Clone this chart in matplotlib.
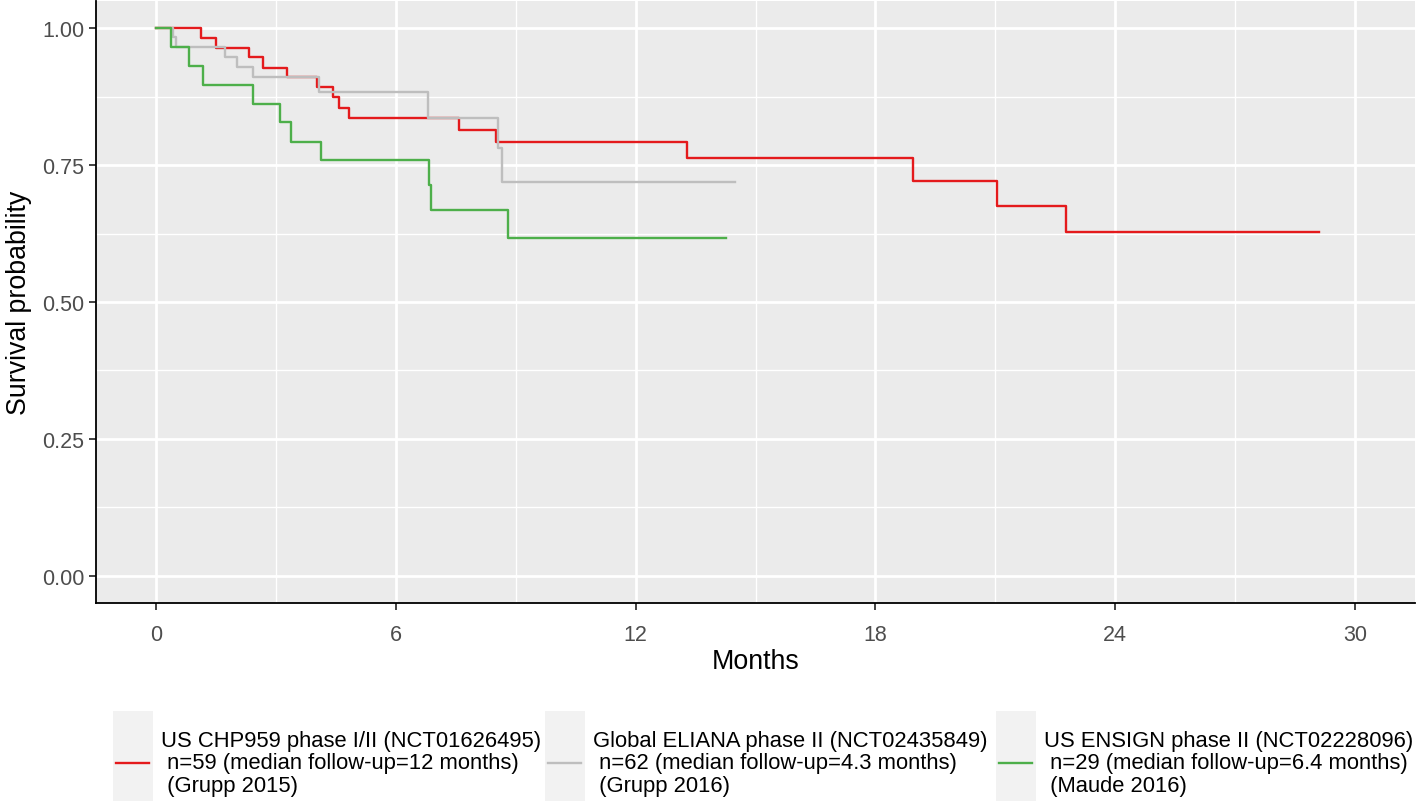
import matplotlib
matplotlib.use("Agg")
import matplotlib.pyplot as plt
from matplotlib.patches import Rectangle
from matplotlib.lines import Line2D

plt.rcParams['font.family'] = ['Liberation Sans', 'DejaVu Sans']

# Kaplan-Meier steps (months, survival probability)
chp959_t = [0, 1.12, 1.50, 2.33, 2.68, 3.27, 4.02, 4.42, 4.58, 4.83,
            7.58, 8.52, 13.29, 18.93, 21.03, 22.77, 29.1]
chp959_s = [1.0, 0.982, 0.965, 0.947, 0.928, 0.912, 0.893, 0.875, 0.855, 0.837,
            0.815, 0.792, 0.764, 0.721, 0.676, 0.628, 0.628]

eliana_t = [0, 0.43, 0.50, 1.73, 2.04, 2.43, 4.07, 6.81, 8.57, 8.67, 14.49]
eliana_s = [1.0, 0.984, 0.966, 0.948, 0.929, 0.911, 0.883, 0.836, 0.782, 0.720, 0.720]

ensign_t = [0, 0.37, 0.83, 1.18, 2.43, 3.10, 3.37, 4.14, 6.83, 6.89, 8.81, 14.25]
ensign_s = [1.0, 0.966, 0.931, 0.897, 0.862, 0.828, 0.793, 0.759, 0.714, 0.668, 0.617, 0.617]

labels = ["US CHP959 phase I/II (NCT01626495)\n n=59 (median follow-up=12 months)\n (Grupp 2015)",
          "Global ELIANA phase II (NCT02435849)\n n=62 (median follow-up=4.3 months)\n (Grupp 2016)",
          "US ENSIGN phase II (NCT02228096)\n n=29 (median follow-up=6.4 months)\n (Maude 2016)"]
colors = ["#E41A1C", "#BEBEBE", "#4DAF4A"]

x_ticks = [0, 6, 12, 18, 24, 30]
y_ticks = [0.0, 0.25, 0.5, 0.75, 1.0]
y_ticklabels = ["0.00", "0.25", "0.50", "0.75", "1.00"]

W, H = 1418, 804
fig = plt.figure(figsize=(W / 100, H / 100), dpi=100)
ax = fig.add_axes([96 / W, 1 - 604 / H, (1415 - 96) / W, (604 - 2) / H])

ax.set_facecolor("#EBEBEB")
for s in ["top", "right"]:
    ax.spines[s].set_visible(False)
for s in ["left", "bottom"]:
    ax.spines[s].set_color("black")
    ax.spines[s].set_linewidth(1.3)

ax.set_xlim(-1.5, 31.5)
ax.set_ylim(-0.05, 1.05)
ax.set_xticks(x_ticks)
ax.set_xticks([3, 9, 15, 21, 27], minor=True)
ax.set_yticks(y_ticks)
ax.set_yticklabels(y_ticklabels)
ax.set_yticks([0.125, 0.375, 0.625, 0.875], minor=True)
ax.grid(which="major", color="white", linewidth=2.0)
ax.grid(which="minor", color="white", linewidth=1.0)
ax.set_axisbelow(True)
ax.tick_params(which="major", length=5, width=1.3, color="#333333",
               labelsize=15.5, labelcolor="#4D4D4D")
ax.tick_params(axis="x", pad=10)
ax.tick_params(axis="y", pad=3.5)
ax.tick_params(which="minor", length=0)

series = [(chp959_t, chp959_s), (eliana_t, eliana_s), (ensign_t, ensign_s)]
for (t, s), c in zip(series, colors):
    ax.step(t, s, where="post", color=c, linewidth=1.7)

ax.set_xlabel("Months", fontsize=19.3, labelpad=2)
ax.set_ylabel("Survival probability", fontsize=19.3, labelpad=7)

# legend along the bottom, ggplot style (grey key boxes)
key_left = [113, 545, 996]
key_w, key_top, key_bot = 40, 712, 802
text_mid = 1 - 764 / H
for x0, lab, c in zip(key_left, labels, colors):
    fig.patches.append(Rectangle((x0 / W, 1 - key_bot / H), key_w / W, (key_bot - key_top) / H,
                                 transform=fig.transFigure, facecolor="#F2F2F2",
                                 edgecolor="none"))
    fig.lines.append(Line2D([(x0 + 3) / W, (x0 + key_w - 4) / W], [text_mid, text_mid],
                            transform=fig.transFigure, color=c, linewidth=1.7))
    fig.text((x0 + key_w + 8) / W, text_mid, lab, fontsize=15.8, va="center", ha="left",
             linespacing=1.1, color="black")

fig.savefig("out.png", dpi=100)
